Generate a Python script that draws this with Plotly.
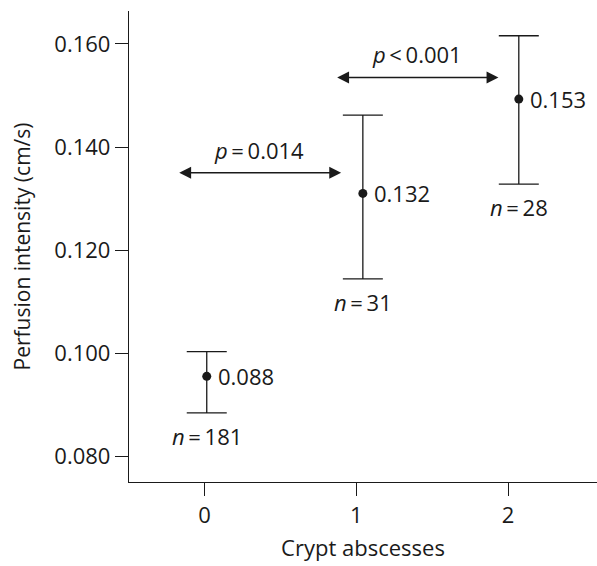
import plotly.graph_objects as go

# Data
groups = [0, 1, 2]
x_pos = [0.015, 1.043, 2.07]
means = [0.0955, 0.1310, 0.1493]
upper = [0.1003, 0.1462, 0.1616]
lower = [0.0884, 0.1144, 0.1328]
value_labels = ["0.088", "0.132", "0.153"]
n_labels = ["181", "31", "28"]
p_ops = ["=", "<"]
p_vals = ["0.014", "0.001"]
p_y = [0.1350, 0.1535]
p_x0 = [-0.176, 0.864]
p_x1 = [0.90, 1.936]

FONT = "Open Sans, Lato, sans-serif"
FS = 22
err_plus = [u - m for u, m in zip(upper, means)]
err_minus = [m - l for m, l in zip(means, lower)]

fig = go.Figure()
fig.add_trace(go.Scatter(
    x=x_pos, y=means, mode="markers",
    marker=dict(color="#1a1a1a", size=9),
    error_y=dict(type="data", array=err_plus, arrayminus=err_minus,
                 color="#1a1a1a", thickness=1.3, width=20, visible=True),
    showlegend=False, hoverinfo="skip",
))

ann = []
for x, m, lab in zip(x_pos, means, value_labels):
    ann.append(dict(x=x, y=m, xref="x", yref="y", text=lab, showarrow=False,
                    xanchor="left", yanchor="middle", xshift=9,
                    font=dict(size=FS, color="#1a1a1a", family=FONT)))
for x, l, n in zip(x_pos, lower, n_labels):
    ann.append(dict(x=x, y=l, xref="x", yref="y",
                    text="<i>n</i>\u2009=\u2009" + n, showarrow=False,
                    xanchor="center", yanchor="top", yshift=-6,
                    font=dict(size=FS, color="#1a1a1a", family=FONT)))
for y, x0, x1, op, pv in zip(p_y, p_x0, p_x1, p_ops, p_vals):
    ann.append(dict(x=x1, y=y, ax=x0, ay=y, xref="x", yref="y", axref="x", ayref="y",
                    text="", showarrow=True, arrowhead=2, arrowside="end+start",
                    arrowsize=1.7, arrowwidth=1.4, arrowcolor="#1a1a1a", standoff=0,
                    startstandoff=0))
    ann.append(dict(x=(x0 + x1) / 2, y=y, xref="x", yref="y",
                    text="<i>p</i>\u2009" + op + "\u2009" + pv, showarrow=False,
                    xanchor="center", yanchor="bottom", yshift=6,
                    font=dict(size=FS, color="#1a1a1a", family=FONT)))

fig.update_layout(
    width=597, height=566,
    margin=dict(l=129, r=0, t=11, b=84),
    paper_bgcolor="white", plot_bgcolor="white",
    font=dict(family=FONT, size=FS, color="#1a1a1a"),
    annotations=ann,
    xaxis=dict(range=[-0.497, 2.585], tickvals=groups, ticktext=[str(g) for g in groups],
               showline=True, linecolor="#1a1a1a", linewidth=1.3,
               ticks="outside", ticklen=13, tickwidth=1.3, tickcolor="#1a1a1a",
               showgrid=False, zeroline=False,
               tickfont=dict(size=FS, family=FONT),
               title=dict(text="Crypt abscesses", font=dict(size=FS, family=FONT), standoff=13)),
    yaxis=dict(range=[0.0750, 0.1664], tickvals=[0.08, 0.10, 0.12, 0.14, 0.16],
               ticktext=["0.080", "0.100", "0.120", "0.140", "0.160"],
               showline=True, linecolor="#1a1a1a", linewidth=1.3,
               ticks="outside", ticklen=13, tickwidth=1.3, tickcolor="#1a1a1a",
               showgrid=False, zeroline=False,
               tickfont=dict(size=FS, family=FONT),
               title=dict(text="Perfusion intensity (cm/s)", font=dict(size=FS - 1, family=FONT), standoff=17)),
)

fig.write_html("out.html", config={"displayModeBar": False},
               post_script="document.body.style.margin='0';document.body.style.overflow='hidden';")
